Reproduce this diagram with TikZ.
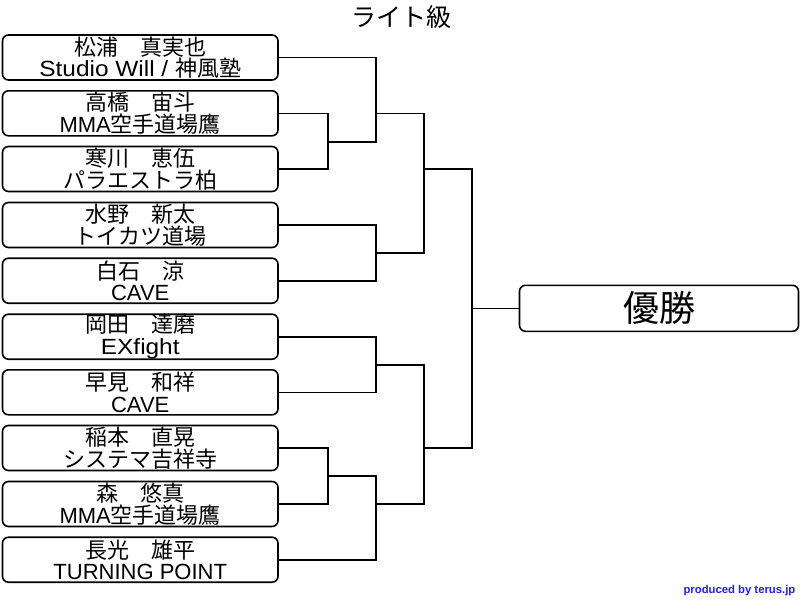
\documentclass[tikz,border=0pt]{standalone}
\usepackage{fontspec}
\setmainfont{Noto Sans CJK JP}
\newfontfamily\lat{Liberation Sans}
\newfontfamily\latw{Liberation Sans}[FakeStretch=1.11]
\definecolor{creditblue}{RGB}{30,30,255}
\begin{document}
\begin{tikzpicture}[x=1pt,y=-1pt,
  player/.style={draw,line width=1.6pt,rounded corners=6pt,minimum width=275.5pt,minimum height=45pt,inner sep=0pt,align=center,font=\fontsize{22}{21.5}\selectfont},
  champbox/.style={draw,line width=1.6pt,rounded corners=6pt,minimum width=279pt,minimum height=46pt,inner sep=0pt,font=\fontsize{36}{38}\selectfont},
  link/.style={line width=1.6pt}]
\useasboundingbox (0,0) rectangle (800,600);
\node[font=\fontsize{25}{27}\selectfont] (title) at (401,17) {ライト級};
\node[player] (p1) at (140.25,57.5) {松浦　真実也\\{\latw Studio Will / }神風塾};
\node[player] (p2) at (140.25,113.3) {高橋　宙斗\\{\lat MMA}空手道場鷹};
\node[player] (p3) at (140.25,169) {寒川　恵伍\\パラエストラ柏};
\node[player] (p4) at (140.25,225) {水野　新太\\トイカツ道場};
\node[player] (p5) at (140.25,280.7) {白石　涼\\{\lat CAVE}};
\node[player] (p6) at (140.25,336.7) {岡田　達磨\\{\latw EXfight}};
\node[player] (p7) at (140.25,392.3) {早見　和祥\\{\lat CAVE}};
\node[player] (p8) at (140.25,448) {稲本　直晃\\システマ吉祥寺};
\node[player] (p9) at (140.25,504) {森　悠真\\{\lat MMA}空手道場鷹};
\node[player] (p10) at (140.25,559.7) {長光　雄平\\{\lat TURNING POINT}};
\node[champbox] (champ) at (659,308.3) {優勝};
\coordinate (m23) at (328,141.7);
\coordinate (m123) at (376,113.3);
\coordinate (m45) at (376,252.7);
\coordinate (mA) at (424,169);
\coordinate (m67) at (376,364.7);
\coordinate (m89) at (328,476);
\coordinate (m8910) at (376,504);
\coordinate (mB) at (424,448);
\coordinate (mF) at (472,308.3);
\draw[link] (p2.east) -| (m23) |- (p3.east);
\draw[link] (p1.east) -| (m123) |- (m23);
\draw[link] (p4.east) -| (m45) |- (p5.east);
\draw[link] (m123) -| (mA) |- (m45);
\draw[link] (p6.east) -| (m67) |- (p7.east);
\draw[link] (p8.east) -| (m89) |- (p9.east);
\draw[link] (m89) -| (m8910) |- (p10.east);
\draw[link] (m67) -| (mB) |- (m8910);
\draw[link] (mA) -| (mF) |- (mB);
\draw[link] (mF) -- (champ.west);
\node[anchor=east,inner sep=0pt,text=creditblue,font=\lat\bfseries\fontsize{11.3}{13}\selectfont] (credit) at (795.5,591) {produced by terus.jp};
\end{tikzpicture}
\end{document}
